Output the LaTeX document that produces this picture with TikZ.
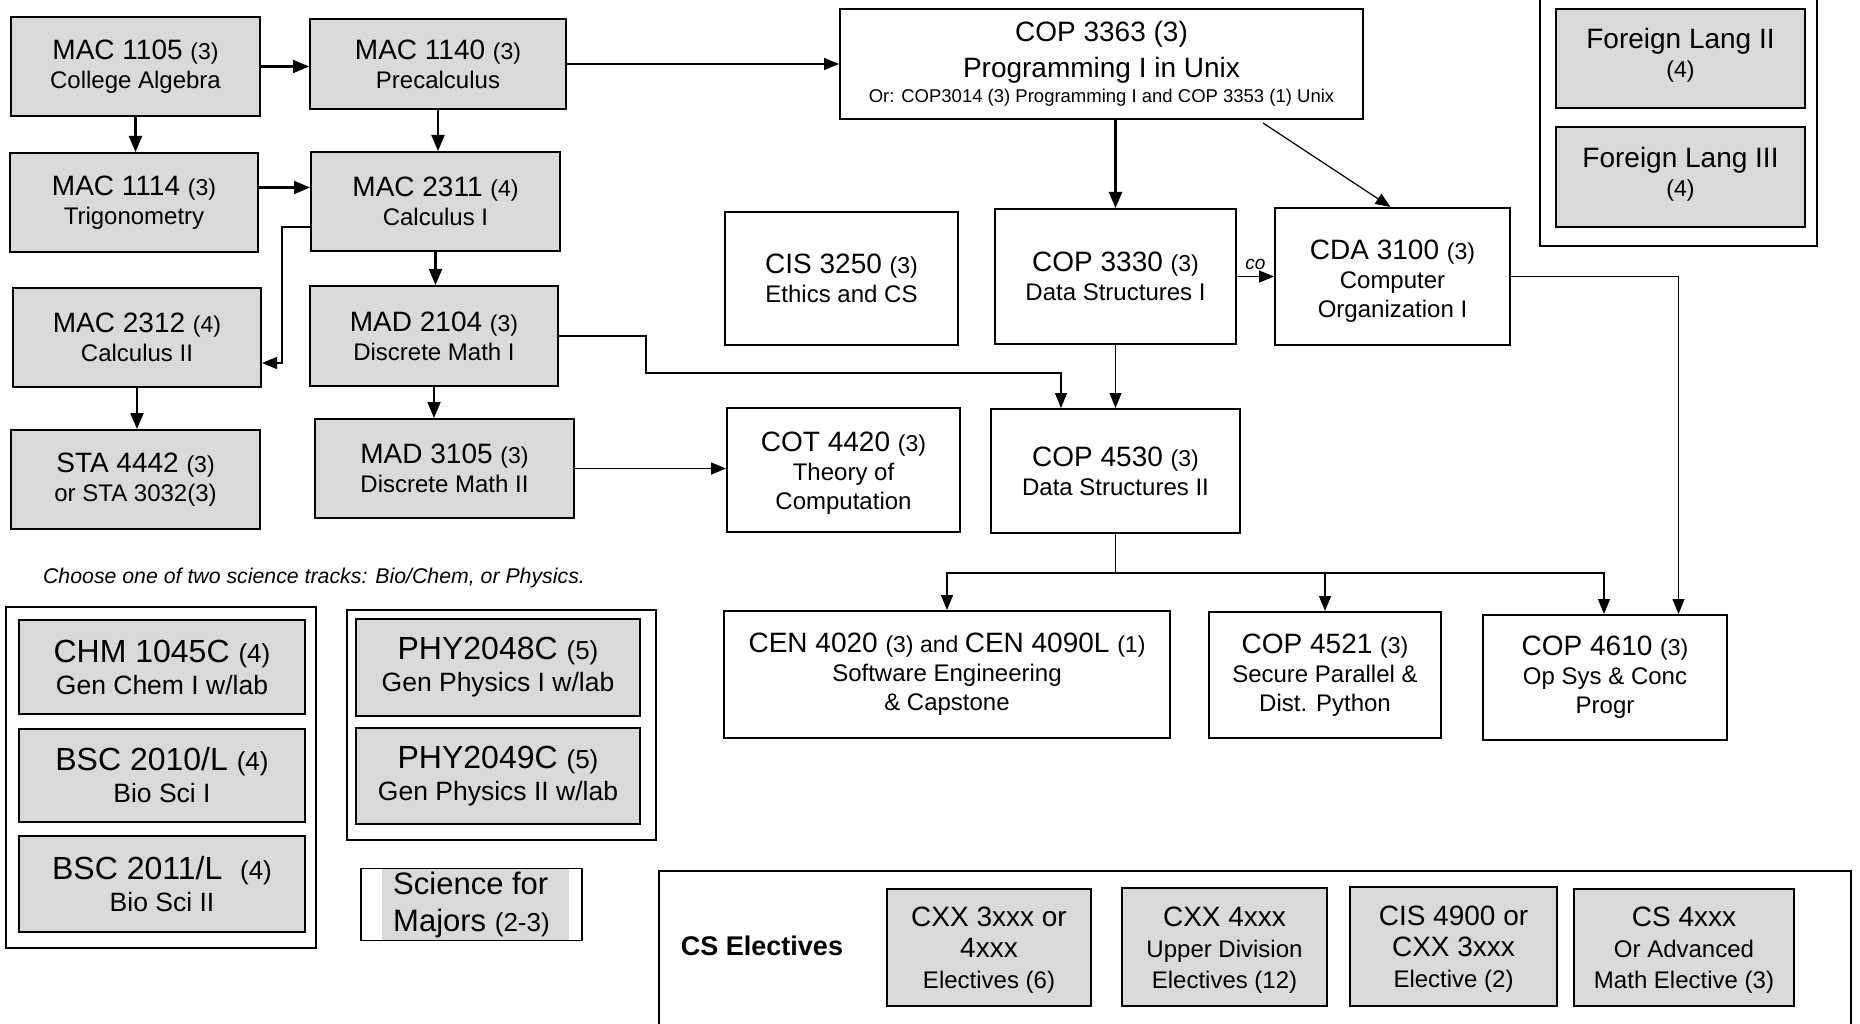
\documentclass[tikz,border=0pt]{standalone}
\usepackage{fontspec}
\setmainfont{Liberation Sans}
\usetikzlibrary{arrows.meta,calc}
\definecolor{boxgray}{RGB}{217,217,217}
\newcommand{\cT}{\fontsize{28}{29}\selectfont}
\newcommand{\cC}{\fontsize{23}{29}\selectfont}
\newcommand{\cS}{\fontsize{24}{29}\selectfont}
\newcommand{\cSe}{\fontsize{24}{31}\selectfont}
\newcommand{\cTb}{\fontsize{32}{33}\selectfont}
\newcommand{\cCb}{\fontsize{26}{33}\selectfont}
\newcommand{\cSb}{\fontsize{26.5}{32}\selectfont}
\newcommand{\upstrut}[1]{\rule{0pt}{#1}}
\newcommand{\dnstrut}[1]{\rule[-#1]{0pt}{0pt}}
\begin{document}
\begin{tikzpicture}[x=1pt,y=-1pt,
  course/.style={draw, line width=2pt, align=center, inner sep=0pt, fill=boxgray, font=\cS},
  wcourse/.style={draw, line width=2pt, align=center, inner sep=0pt, fill=white, font=\cS},
  group/.style={draw, line width=2pt},
  thk/.style={line width=2.2pt, -{Triangle[length=16pt,width=13pt]}},
  thn/.style={line width=1.2pt, -{Triangle[length=15pt,width=12pt]}},
  wh/.style 2 args={minimum width=#1pt, minimum height=#2pt}
]
\useasboundingbox (0,0) rectangle (1860,1024);

% clipped group frames
\begin{scope}
  \clip (0,0) rectangle (1860,1024);
  \draw[group] (1540,-10) rectangle (1817,246);
  \draw[line width=1.6pt] (659,871) rectangle (1851,1040);
\end{scope}
\draw[group] (6,607) rectangle (316,948);
\draw[group] (347,610) rectangle (656,840);

% math column
\node[course, wh={249}{99}] (mac1105) at (135.5,66.5) {\cT MAC 1105 \cC(3)\\College Algebra};
\node[course, wh={256}{90}] (mac1140) at (438,64) {\cT MAC 1140 \cC(3)\\Precalculus};
\node[course, wh={248}{99}] (mac1114) at (134,202.5) {\cT MAC 1114 \cC(3)\\Trigonometry};
\node[course, wh={249}{99}] (mac2311) at (435.5,201.5) {\cT MAC 2311 \cC(4)\\Calculus I};
\node[course, wh={248}{99}] (mac2312) at (137,337.5) {\cT MAC 2312 \cC(4)\\Calculus II};
\node[course, wh={248}{100}] (mad2104) at (434,336) {\cT MAD 2104 \cC(3)\\Discrete Math I};
\node[course, wh={249}{99}] (sta4442) at (135.5,479.5) {\cT STA 4442 \cC(3)\\or STA 3032(3)};
\node[course, wh={259}{99}] (mad3105) at (444.5,468.5) {\cT MAD 3105 \cC(3)\\Discrete Math II};

% CS courses
\node[wcourse, wh={523}{110}, font=\fontsize{18.5}{25}\selectfont] (cop3363) at (1101.5,64) {\cT COP 3363 (3)\\[9pt]\cT Programming I in Unix\\Or: COP3014 (3) Programming I and COP 3353 (1) Unix};
\node[wcourse, wh={233}{133}] (cis3250) at (841.5,278.5) {\cT CIS 3250 \cC(3)\\Ethics and CS};
\node[wcourse, wh={241}{135}] (cop3330) at (1115.5,276.5) {\cT COP 3330 \cC(3)\\Data Structures I};
\node[wcourse, wh={235}{137}] (cda3100) at (1392.5,276.5) {\upstrut{29pt}\cT CDA 3100 \cC(3)\\Computer\\Organization I};
\node[wcourse, wh={233}{124}] (cot4420) at (843.5,470) {\upstrut{26pt}\cT COT 4420 \cC(3)\\Theory of\\Computation};
\node[wcourse, wh={249}{124}] (cop4530) at (1115.5,471) {\cT COP 4530 \cC(3)\\Data Structures II};
\node[wcourse, wh={446}{127}] (cen) at (947,674.5) {\cT CEN 4020 \cC(3) and \cT CEN 4090L \cC(1)\\Software Engineering\\\& Capstone};
\node[wcourse, wh={232}{126}] (cop4521) at (1325,675) {\cT COP 4521 \cC(3)\\Secure Parallel \&\\Dist. Python};
\node[wcourse, wh={244}{125}] (cop4610) at (1605,677.5) {\cT COP 4610 \cC(3)\\Op Sys \& Conc\\Progr};

% foreign languages
\node[course, wh={249}{99}, font=\cC] (flang2) at (1680.5,58.5) {\cT Foreign Lang II\\(4)\dnstrut{12pt}};
\node[course, wh={249}{100}, font=\cC] (flang3) at (1680.5,177) {\cT Foreign Lang III\\(4)\dnstrut{10pt}};

% science
\node[font=\itshape\fontsize{21.3}{24}\selectfont, inner sep=0pt] (note) at (314,578) {Choose one of two science tracks: Bio/Chem, or Physics.};
\node[course, wh={286}{94}, font=\cSb] (chm) at (162,667) {\cTb CHM 1045C \cCb(4)\\Gen Chem I w/lab};
\node[course, wh={286}{93}, font=\cSb] (bsc2010) at (162,775.5) {\cTb BSC 2010/L \cCb(4)\\Bio Sci I};
\node[course, wh={286}{96}, font=\cSb] (bsc2011) at (162,884) {\cTb BSC 2011/L\ \ \cCb(4)\\Bio Sci II};
\node[course, wh={284}{97}, font=\cSb] (phy2048) at (498,667.5) {\cTb PHY2048C \cCb(5)\\Gen Physics I w/lab};
\node[course, wh={284}{96}, font=\cSb] (phy2049) at (498,776) {\cTb PHY2049C \cCb(5)\\Gen Physics II w/lab};
\fill[boxgray] (382,868) rectangle (569,941);
\node[draw, line width=1.5pt, align=left, inner sep=0pt, wh={221}{72}, font=\fontsize{31}{37}\selectfont] (sci) at (471.5,904.5) {Science for\\Majors {\fontsize{26}{37}\selectfont(2-3)}};

% electives
\node[font=\bfseries\fontsize{27}{30}\selectfont, inner sep=0pt] (cselab) at (762,946) {CS Electives};
\node[course, wh={204}{117}, font=\cSe] (el1) at (989,947.5) {\upstrut{25pt}\cT CXX 3xxx or\\\cT 4xxx\\Electives (6)};
\node[course, wh={205}{118}, font=\cSe] (el2) at (1224.5,947) {\upstrut{25pt}\cT CXX 4xxx\\Upper Division\\Electives (12)};
\node[course, wh={207}{119}, font=\cSe] (el3) at (1453.5,946.5) {\upstrut{25pt}\cT CIS 4900 or\\\cT CXX 3xxx\\Elective (2)};
\node[course, wh={220}{117}, font=\cSe] (el4) at (1684,947.5) {\upstrut{25pt}\cT CS 4xxx\\Or Advanced\\Math Elective (3)};

% connectors: math
\draw[thk] (mac1105.east) -- (mac1105.east -| mac1140.west);
\draw[thk] (mac1105.south) -- (mac1105.south |- mac1114.north);
\draw[thk] (mac1140.south) -- (mac1140.south |- mac2311.north);
\draw[thk] ([yshift=15pt]mac1114.east) -- ([yshift=15pt]mac1114.east -| mac2311.west);
\draw[thn] ([yshift=-25.5pt]mac2311.west) -- ++(-28,0) |- ([yshift=-25.5pt]mac2312.east);
\draw[thk] (mac2311.south) -- (mac2311.south |- mad2104.north);
\draw[thk] (mac2312.south) -- (mac2312.south |- sta4442.north);
\draw[thk, line width=1.8pt] (mad2104.south) -- (mad2104.south |- mad3105.north);
\draw[thn] (mad2104.east) -- ++(87,0) -- ++(0,37) -| ([xshift=-54.5pt]cop4530.north);
\draw[thn] (mad3105.east) -- (mad3105.east -| cot4420.west);

% connectors: CS
\draw[thn] (mac1140.east) -- (mac1140.east -| cop3363.west);
\draw[thk, line width=2.6pt] (cop3330.north |- cop3363.south) -- (cop3330.north);
\draw[thn] ([xshift=161.5pt, yshift=-3pt]cop3363.south) -- ([xshift=-2pt]cda3100.north);
\draw[thn] (cop3330.east) -- (cop3330.east -| cda3100.west)
  node[midway, above=5pt, inner sep=1pt, font=\itshape\fontsize{19}{20}\selectfont] (colab) {co};
\draw[thn] (cop3330.south) -- (cop3330.south |- cop4530.north);
\draw[line width=1.2pt] (cop4530.south) -- ++(0,39) coordinate (br);
\draw[thn] (br) -| (cen.north);
\draw[thn] (br) -| (cop4521.north);
\draw[thn] (br) -| ([xshift=-1pt]cop4610.north);
\draw[thn] (cda3100.east) -| ([xshift=73.5pt]cop4610.north);
\end{tikzpicture}
\end{document}
